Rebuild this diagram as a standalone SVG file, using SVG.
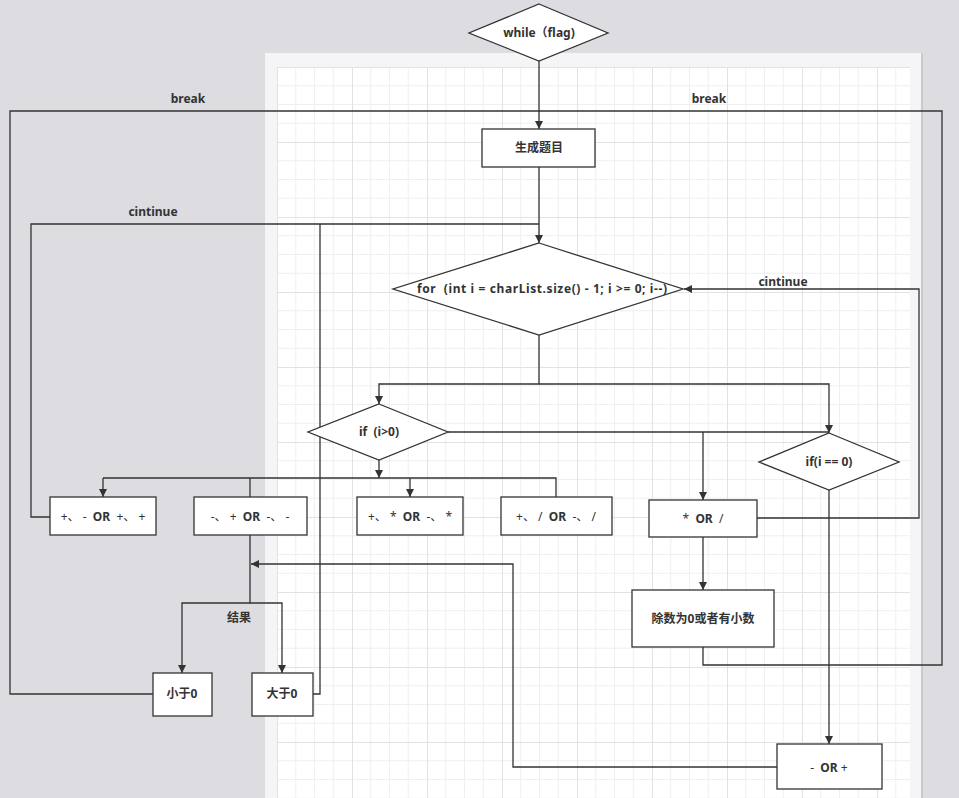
<svg xmlns="http://www.w3.org/2000/svg" width="959" height="798" viewBox="0 0 959 798">
<defs>
<pattern id="grid" x="277" y="67" width="75" height="75" patternUnits="userSpaceOnUse">
<path d="M18.75,0V75M37.5,0V75M56.25,0V75M0,18.75H75M0,37.5H75M0,56.25H75" stroke="#efeff1" stroke-width="1" fill="none"/>
<path d="M0.5,0V75M0,0.5H75" stroke="#e2e2e6" stroke-width="1" fill="none"/>
</pattern>
<marker id="arr" markerUnits="userSpaceOnUse" markerWidth="10" markerHeight="10" refX="8" refY="4" orient="auto">
<path d="M0,0L8,4L0,8Z" fill="#333"/>
</marker>
</defs>
<style>
.n{fill:#fff;stroke:#333;stroke-width:1.3}
.c{fill:none;stroke:#333;stroke-width:1.3}
.t{font-family:"Noto Sans","Noto Sans CJK SC",sans-serif;font-size:12px;font-weight:bold;fill:#333;text-anchor:middle;white-space:pre}
.op{font-weight:normal}
</style>
<rect x="0" y="0" width="959" height="798" fill="#dcdce1"/>
<rect x="265" y="53" width="657" height="750" fill="#f5f5f7"/>
<rect x="921" y="53" width="2" height="750" fill="#c9c9ce"/>
<rect x="277" y="67" width="633" height="731" fill="#fff"/>
<rect x="277" y="67" width="633" height="731" fill="url(#grid)"/>
<g id="connectors">
<path class="c" d="M539,61V129" marker-end="url(#arr)"/>
<path class="c" d="M153,694H10V111H539"/>
<path class="c" d="M703,647V665H942V111H539"/>
<path class="c" d="M539,167V243" marker-end="url(#arr)"/>
<path class="c" d="M50,517H31V224H539"/>
<path class="c" d="M313,694H320V224"/>
<path class="c" d="M539,335V384H379V404" marker-end="url(#arr)"/>
<path class="c" d="M539,384H829V433" marker-end="url(#arr)"/>
<path class="c" d="M448,432H829"/>
<path class="c" d="M703,432V500" marker-end="url(#arr)"/>
<path class="c" d="M379,460V478" marker-end="url(#arr)"/>
<path class="c" d="M103,478H556V497"/>
<path class="c" d="M103,478V497" marker-end="url(#arr)"/>
<path class="c" d="M250,478V497"/>
<path class="c" d="M410,478V497" marker-end="url(#arr)"/>
<path class="c" d="M757,518H919V289H684" marker-end="url(#arr)"/>
<path class="c" d="M703,537V590" marker-end="url(#arr)"/>
<path class="c" d="M829,490V744" marker-end="url(#arr)"/>
<path class="c" d="M777,767H513V564H251" marker-end="url(#arr)"/>
<path class="c" d="M250,535V603H182V673" marker-end="url(#arr)"/>
<path class="c" d="M250,603H282V673" marker-end="url(#arr)"/>
<text class="t" x="188" y="103">break</text>
<text class="t" x="709" y="103">break</text>
<text class="t" x="153" y="216">cintinue</text>
<text class="t" x="783" y="286">cintinue</text>
<text class="t" x="239" y="622">结果</text>
</g>
<g id="while"><path class="n" d="M539,4L608,33L539,61L469,33Z"/><text class="t" x="539" y="37">while（flag)</text></g>
<g id="gen"><rect class="n" x="482" y="129" width="113" height="38"/><text class="t" x="539" y="152">生成题目</text></g>
<g id="for"><path class="n" d="M539,243L683,289L539,335L393,289Z"/><text class="t" x="542" y="293" textLength="250">for  (int i = charList.size() - 1; i &gt;= 0; i--)</text></g>
<g id="if1"><path class="n" d="M379,404L448,432L379,460L308,432Z"/><text class="t" x="379" y="436">if  (i&gt;0)</text></g>
<g id="if2"><path class="n" d="M829,433L899,462L829,490L759,462Z"/><text class="t" x="829" y="466">if(i == 0)</text></g>
<g id="b1"><rect class="n" x="50" y="497" width="106" height="38"/><text class="t" x="103" y="521"><tspan class="op">+、 - </tspan> OR  <tspan class="op">+、 +</tspan></text></g>
<g id="b2"><rect class="n" x="194" y="497" width="113" height="38"/><text class="t" x="250" y="521"><tspan class="op">-、 + </tspan> OR  <tspan class="op">-、 -</tspan></text></g>
<g id="b3"><rect class="n" x="357" y="497" width="106" height="38"/><text class="t" x="410" y="521"><tspan class="op">+、 * </tspan> OR  <tspan class="op">-、 *</tspan></text></g>
<g id="b4"><rect class="n" x="501" y="497" width="111" height="38"/><text class="t" x="556" y="521"><tspan class="op">+、 / </tspan> OR  <tspan class="op">-、 /</tspan></text></g>
<g id="b5"><rect class="n" x="649" y="500" width="108" height="37"/><text class="t" x="703" y="523"><tspan class="op">*</tspan>  OR  <tspan class="op">/</tspan></text></g>
<g id="div"><rect class="n" x="632" y="590" width="142" height="57"/><text class="t" x="703" y="623">除数为0或者有小数</text></g>
<g id="mp"><rect class="n" x="777" y="744" width="105" height="45"/><text class="t" x="829" y="772"><tspan class="op">-</tspan>  OR <tspan class="op">+</tspan></text></g>
<g id="lt"><rect class="n" x="153" y="673" width="59" height="43"/><text class="t" x="182" y="698">小于0</text></g>
<g id="gt"><rect class="n" x="252" y="673" width="61" height="43"/><text class="t" x="282" y="698">大于0</text></g>
</svg>
